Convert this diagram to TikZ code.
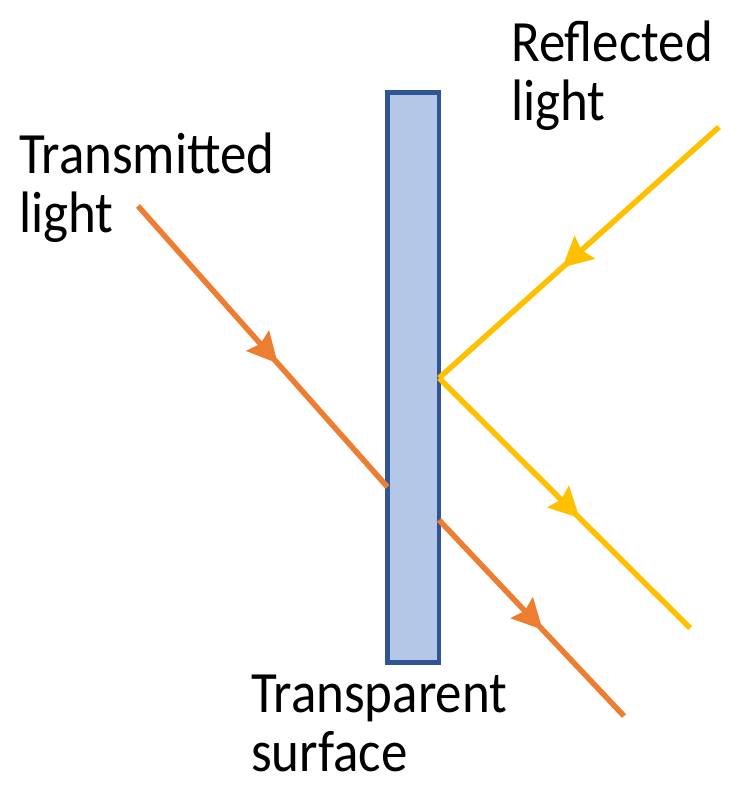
\documentclass[tikz,border=0pt]{standalone}
\usepackage{fontspec}
\setmainfont{Carlito}[FakeStretch=0.905]
\usetikzlibrary{arrows.meta,decorations.markings}
\definecolor{rayorange}{HTML}{ED7D31}
\definecolor{rayyellow}{HTML}{FFC000}
\definecolor{slabedge}{HTML}{2F5597}
\definecolor{slabfill}{HTML}{B4C7E7}
\tikzset{
  ray/.style={line width=5.5pt, line cap=butt},
  midarrow/.style={postaction={decorate}, decoration={markings,
     mark=at position #1 with {\arrow{Stealth[length=30pt,width=30pt,inset=4pt]}}}},
  lbl/.style={font=\fontsize{58.5}{59}\selectfont, inner sep=0pt, align=left, anchor=base west},
  slabbox/.style={draw=slabedge, fill=slabfill, line width=4.5pt, minimum width=51.5pt, minimum height=570pt, inner sep=0pt}
}
\begin{document}
\begin{tikzpicture}[x=1pt,y=-1pt]
\useasboundingbox (0,0) rectangle (741,798);
\node[slabbox] (slab) at (413.25,377.5) {};
\coordinate (tin) at (138,206);
\coordinate (thitL) at (387.5,487);
\coordinate (thitR) at (439,520);
\coordinate (tout) at (624,716);
\coordinate (rin) at (719,127);
\coordinate (rhit) at (439,378);
\coordinate (rout) at (690,628);
\draw[ray, rayorange, midarrow=0.56] (tin) -- (thitL);
\draw[ray, rayorange, midarrow=0.56] (thitR) -- (tout);
\draw[ray, rayyellow, midarrow=0.56] (rin) -- (rhit);
\draw[ray, rayyellow, midarrow=0.56] (rhit) -- (rout);
\node[lbl] (tlabel) at (19,232) {Transmitted\\light};
\node[lbl] (rlabel) at (511,120) {Reflected\\light};
\node[lbl] (slabel) at (251,771) {Transparent\\surface};
\end{tikzpicture}
\end{document}
